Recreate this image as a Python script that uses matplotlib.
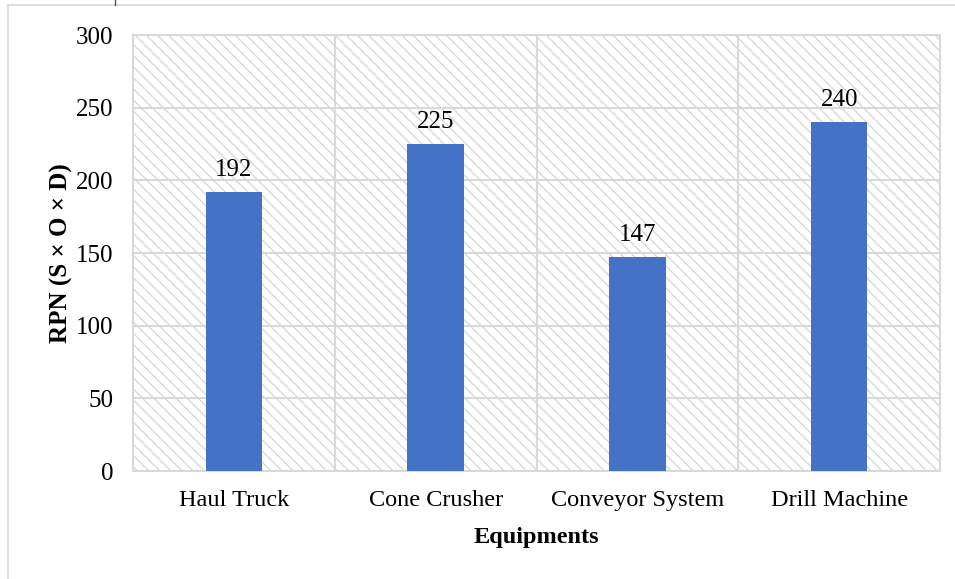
import numpy as np
import matplotlib.pyplot as plt
from matplotlib.lines import Line2D
from matplotlib.patches import Rectangle

equipments = ['Haul Truck', 'Cone Crusher', 'Conveyor System', 'Drill Machine']
rpn = [192, 225, 147, 240]
yticks = [0, 50, 100, 150, 200, 250, 300]

plt.rcParams['font.family'] = ['Liberation Serif', 'DejaVu Serif']
plt.rcParams['hatch.color'] = '#d6d6d6'
plt.rcParams['hatch.linewidth'] = 0.9

fig = plt.figure(figsize=(9.55, 5.79), dpi=100)
ax = fig.add_axes([133/955, 1 - 471/579, 807/955, 436/579])

x = np.arange(len(equipments))
ax.set_xlim(-0.5, len(equipments) - 0.5)
ax.set_ylim(0, 300)

# hatched plot-area background
bg = Rectangle((0, 0), 1, 1, transform=ax.transAxes, facecolor='white',
               edgecolor='#d6d6d6', hatch='\\\\\\', linewidth=0, zorder=0)
ax.add_patch(bg)

# gridlines
for yv in yticks:
    ax.axhline(yv, color='#d9d9d9', lw=1.5, zorder=1)
for xv in x[:-1] + 0.5:
    ax.axvline(xv, color='#d9d9d9', lw=1.5, zorder=1)

bars = ax.bar(x, rpn, width=0.28, color='#4472C4', zorder=3)
for b, v in zip(bars, rpn):
    ax.annotate(str(v), xy=(b.get_x() + b.get_width()/2, v), xytext=(0, 8),
                textcoords='offset points', ha='center', va='bottom', fontsize=18)

ax.set_xticks(x)
ax.set_xticklabels(equipments, fontsize=17.5)
ax.set_yticks(yticks)
ax.set_yticklabels([str(t) for t in yticks], fontsize=18)
ax.tick_params(axis='both', length=0)
ax.tick_params(axis='y', pad=14)
ax.tick_params(axis='x', pad=14)

for s in ax.spines.values():
    s.set_color('#d9d9d9')
    s.set_linewidth(1.5)

ax.set_xlabel('Equipments', fontsize=17.5, fontweight='bold', labelpad=11)
ax.set_ylabel('RPN (S × O × D)', fontsize=18, fontweight='bold', labelpad=2)

# outer chart frame (partly cropped)
fig.add_artist(Line2D([8/955, 1], [1 - 5/579, 1 - 5/579], color='#d9d9d9', lw=1.2))
fig.add_artist(Line2D([8/955, 8/955], [0, 1 - 5/579], color='#d9d9d9', lw=1.2))
fig.add_artist(Line2D([115/955, 115/955], [1 - 5/579, 1], color='#555555', lw=1))

fig.savefig('out.png', dpi=100)
